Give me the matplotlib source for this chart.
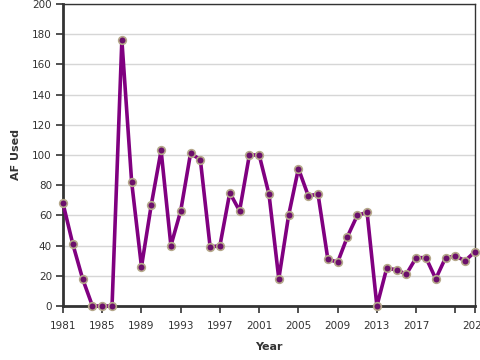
#!/usr/bin/env python3

import matplotlib
matplotlib.use("Agg")
import matplotlib.pyplot as plt

# AF used per year
years = list(range(1981, 2024))
af_used = [68, 41, 18, 0, 0, 0, 176, 82, 26, 67,
           103, 40, 63, 101, 97, 39, 40, 75, 63, 100,
           100, 74, 18, 60, 91, 73, 74, 31, 29, 46,
           60, 62, 0, 25, 24, 21, 32, 32, 18, 32,
           33, 30, 36]

x_ticks = [1981, 1985, 1989, 1993, 1997, 2001, 2005, 2009, 2013, 2017, 2021, 2023]
x_tick_labels = ['1981', '1985', '1989', '1993', '1997', '2001', '2005', '2009',
                 '2013', '2017', '', '2023']
y_ticks = list(range(0, 201, 20))

plt.rcParams['font.family'] = ['DejaVu Sans']

fig = plt.figure(figsize=(4.8, 3.6), dpi=100)
ax = fig.add_axes([63 / 480, 1 - 306 / 360, 412 / 480, 302 / 360])

ax.plot(years, af_used, color='#800080', linewidth=2.6, zorder=3,
        marker='o', markersize=5.5, markerfacecolor='#6b0f6b',
        markeredgecolor='#b5a88a', markeredgewidth=1.2, clip_on=False)

ax.set_xlim(1981, 2023)
ax.set_ylim(0, 200)
ax.set_xticks(x_ticks)
ax.set_xticklabels(x_tick_labels)
ax.set_yticks(y_ticks)

ax.grid(axis='y', color='#d6d6d6', linewidth=1)
ax.set_axisbelow(True)

for side in ['left', 'bottom']:
    ax.spines[side].set_linewidth(2)
    ax.spines[side].set_color('#333333')
for side in ['top', 'right']:
    ax.spines[side].set_linewidth(1)
    ax.spines[side].set_color('#333333')

ax.tick_params(axis='both', direction='out', length=5, width=1.2,
               color='#333333', labelsize=7.5, labelcolor='#333333', pad=3)
ax.tick_params(axis='x', pad=6)

ax.set_xlabel('Year', fontsize=8, fontweight='bold', color='#333333', labelpad=8)
ax.set_ylabel('AF Used', fontsize=8, fontweight='bold', color='#333333', labelpad=8)

fig.savefig('out.png', dpi=100)
